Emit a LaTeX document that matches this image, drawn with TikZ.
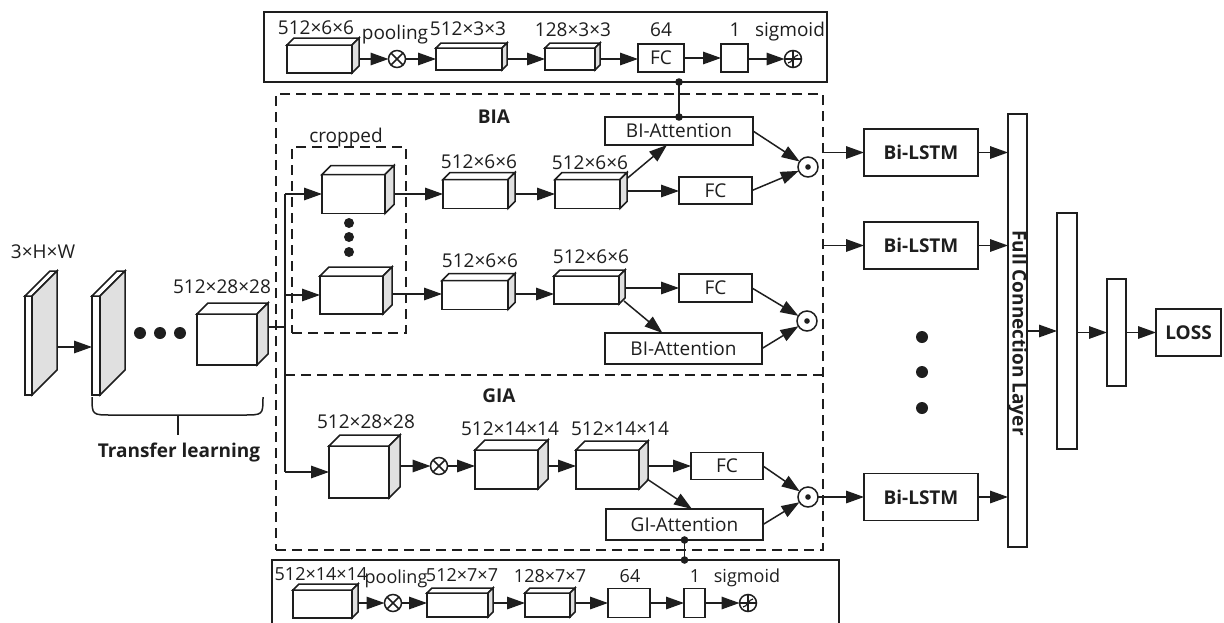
\documentclass[tikz,border=0pt]{standalone}
\usepackage{fontspec}
\setmainfont{Open Sans}
\usetikzlibrary{arrows.meta,calc}
\definecolor{lnc}{HTML}{1E1E1E}
\definecolor{sidegray}{HTML}{E0E0E0}
% name, cx, cy, w, h, depth, out-dy
\newcommand\cub[7]{%
  \node[cubf, minimum width=#4pt, minimum height=#5pt] (#1) at (#2,#3) {};
  \draw[fill=white] (#1.north west) -- ++(#6,-#6) -- ++(#4,0) -- (#1.north east) -- cycle;
  \draw[fill=sidegray] (#1.north east) -- ++(#6,-#6) -- ++(0,#5) -- (#1.south east) -- cycle;
  \coordinate (#1-r) at ($(#1.east)+(#6,#7)$);
}
\newcommand\otm[1]{\draw (#1.north east) -- (#1.south west) (#1.north west) -- (#1.south east);}
\newcommand\odt[1]{\fill (#1) circle (2.8);}
\newcommand\sgm[1]{\draw[line width=1.2pt] (#1.north) -- (#1.south) (#1.west) -- (#1.east);
  \draw[line width=1.2pt] ($(#1)+(-5,4)$) .. controls ($(#1)+(-1,4)$) and ($(#1)+(1,-4)$) .. ($(#1)+(5,-4)$);}
\begin{document}
\begin{tikzpicture}[x=1pt,y=-1pt,line width=1.5pt,color=lnc,
  every node/.style={font=\fontsize{19}{22}\selectfont},
  bf/.style={font=\fontsize{19}{22}\selectfont\bfseries},
  sm/.style={font=\fontsize{18}{21}\selectfont},
  lbl/.style={anchor=base,inner sep=0},
  arr/.style={-{Triangle[length=18pt,width=12.5pt]}},
  cubf/.style={draw,fill=white,inner sep=0,outer sep=0},
  box/.style={draw,fill=white,inner sep=0,outer sep=0},
  dsh/.style={dash pattern=on 10pt off 6pt},
  opc/.style={draw,circle,fill=white,minimum size=17pt,inner sep=0,outer sep=0},
  odc/.style={draw,circle,fill=white,minimum size=20pt,inner sep=0,outer sep=0}]
\useasboundingbox (0,0) rectangle (1224,622);

% ---------- dashed frames ----------
\node[draw,dsh,minimum width=547pt,minimum height=456pt,inner sep=0,outer sep=0] (DB) at (549.5,322) {};
\coordinate (dl) at (285,375); \coordinate (dr) at (823,375);
\draw[dsh] (dl) -- (dr);
\node[draw,dsh,minimum width=114pt,minimum height=186pt,inner sep=0,outer sep=0] (CR) at (349,240) {};

% ---------- top strip ----------
\node[draw,minimum width=563pt,minimum height=70pt,inner sep=0,outer sep=0] (TB) at (545.5,47) {};
\cub{T1}{319.5}{59}{65}{28}{7}{0}
\node[opc] (Tx) at (397,59) {}; \otm{Tx}
\cub{T2}{469}{59}{66}{22}{5}{0}
\cub{T3}{570}{59}{50}{22}{5}{0}
\node[box,minimum width=46pt,minimum height=28pt] (TFC) at (661,58) {FC};
\node[box,minimum width=27pt,minimum height=28pt] (Tone) at (734.5,58) {};
\node[opc] (Tsg) at (793,59) {}; \sgm{Tsg}
\draw[arr] (T1-r) -- (Tx);
\draw[arr] (Tx) -- (T2);
\draw[arr] (T2-r) -- (T3);
\draw[arr] (T3-r) -- (T3-r -| TFC.west);
\draw[arr] (TFC) -- (Tone);
\draw[arr] (Tone.east |- Tsg) -- (Tsg);
\node[lbl] (tl1) at (316,34) {512×6×6};
\node[lbl] (tl2) at (395,39) {pooling};
\node[lbl] (tl3) at (468,35) {512×3×3};
\node[lbl] (tl4) at (573,36) {128×3×3};
\node[lbl] (tl5) at (661,36) {64};
\node[lbl] (tl6) at (735,36) {1};
\node[lbl] (tl7) at (790,36) {sigmoid};

% ---------- left ----------
\cub{S1}{28.5}{345.5}{7}{99}{25}{1.5}
\cub{S2}{96}{345.5}{8}{99}{25}{0}
\draw[arr] (S1-r) -- (S1-r -| S2.west);
\fill (140,333) circle (6) (160,333) circle (6) (180,333) circle (6);
\cub{L3}{227}{339.5}{60}{51}{11}{-12.5}
\node[lbl] (ll1) at (43,258) {3×H×W};
\node[lbl] (ll2) at (222,293) {512×28×28};
\draw (92,397) .. controls (92,415) .. (112,415) -- (243,415) .. controls (263,415) .. (263,397);
\draw (178,415) -- (178,435);
\node[lbl,bf] (ll3) at (179,457) {Transfer learning};

\coordinate (J) at (285,327); \coordinate (Jt) at (285,194);
\coordinate (Jm) at (285,295); \coordinate (Jb) at (285,472);
\draw (L3-r) -- (J);
\draw (Jt) -- (Jb);

% ---------- BIA ----------
\node[lbl,bf] (bia) at (494,123) {BIA};
\node[lbl] (crp) at (346,142) {cropped};
\cub{C1}{353.5}{194}{63}{39}{9}{0}
\cub{C2}{351.5}{295}{63}{38}{9}{-1}
\fill (349,223) circle (5) (349,237) circle (5) (349,252) circle (5);
\draw[arr] (Jt) -- (C1.west);
\draw[arr] (Jm) -- (C2.west);
\cub{R1a}{475.5}{194}{65}{29}{7}{0}
\cub{R1b}{587.5}{194}{65}{29}{7}{-3}
\node[box,minimum width=73pt,minimum height=27pt] (FC1) at (715.5,190.5) {FC};
\node[box,minimum width=148pt,minimum height=28pt] (BA1) at (679,131) {BI-Attention};
\node[odc] (O1) at (808,167) {}; \odt{O1}
\draw[arr] (C1-r) -- (R1a);
\draw[arr] (R1a-r) -- (R1b);
\draw[arr] (R1b-r) -- (R1b-r -| FC1.west);
\draw[arr] ($(R1b.north east)+(7,-1)$) -- ($(BA1.south)+(-12,0)$);
\draw[arr] (BA1.east) -- (O1);
\draw[arr] (FC1.east) -- (O1);
\node[lbl] (bl1) at (479,168) {512×6×6};
\node[lbl] (bl2) at (590,169) {512×6×6};

\cub{R2a}{475}{295}{66}{29}{7}{-1}
\cub{R2b}{586.5}{290}{65}{28}{6}{-2}
\node[box,minimum width=73pt,minimum height=28pt] (FC2) at (715.5,288) {FC};
\node[box,minimum width=157pt,minimum height=31pt] (BA2) at (683.5,348.5) {BI-Attention};
\node[odc] (O2) at (807,321) {}; \odt{O2}
\draw[arr] (C2-r) -- (C2-r -| R2a.west);
\draw[arr] (R2a-r) -- (R2a-r -| R2b.west);
\draw[arr] (R2b-r) -- (R2b-r -| FC2.west);
\draw[arr] ($(R2b.south east)+(5,-3)$) -- ($(BA2.north)+(-21,0)$);
\draw[arr] (FC2.east) -- (O2);
\draw[arr] (BA2.east) -- (O2);
\node[lbl] (bl3) at (480,267) {512×6×6};
\node[lbl] (bl4) at (591,263) {512×6×6};

% junction to top strip
\coordinate (Tj) at (679,82);
\draw (Tj) -- (BA1.north);
\fill (Tj) circle (3.8) (BA1.north) circle (3.8);

% ---------- GIA ----------
\node[lbl,bf] (gia) at (499,402) {GIA};
\cub{G1}{359}{472}{60}{52}{11}{-6}
\node[opc] (Gx) at (439,466) {}; \otm{Gx}
\cub{G2}{506.5}{469.5}{63}{39}{10}{-3.5}
\cub{G3}{607.5}{469.5}{63}{39}{9}{-3.5}
\node[box,minimum width=72pt,minimum height=27pt] (FC3) at (727,466) {FC};
\node[box,minimum width=157pt,minimum height=31pt] (GA) at (684.5,524.5) {GI-Attention};
\node[odc] (O3) at (808,497) {}; \odt{O3}
\draw[arr] (Jb) -- (G1.west);
\draw[arr] (G1-r) -- (Gx);
\draw[arr] (Gx) -- (Gx -| G2.west);
\draw[arr] (G2-r) -- (G2-r -| G3.west);
\draw[arr] (G3-r) -- (G3-r -| FC3.west);
\draw[arr] ($(G3.south east)+(8,-10)$) -- ($(GA.north)+(7.5,0)$);
\draw[arr] (FC3.east) -- (O3);
\draw[arr] (GA.east) -- (O3);
\node[lbl] (gl1) at (366,428) {512×28×28};
\node[lbl] (gl2) at (510,435) {512×14×14};
\node[lbl] (gl3) at (620,435) {512×14×14};

% ---------- bottom strip ----------
\coordinate (bf1) at (272,640); \coordinate (bf2) at (272,560);
\coordinate (bf3) at (839,560); \coordinate (bf4) at (839,640);
\draw (bf1) -- (bf2) -- (bf3) -- (bf4);
\coordinate (Bj) at (684.5,560);
\draw (GA.south) -- (Bj);
\fill (GA.south) circle (3.8) (Bj) circle (3.8);
\cub{B1}{322.5}{604}{59}{28}{6}{-1}
\node[opc] (Bx) at (393,603) {}; \otm{Bx}
\cub{B2}{457.5}{605}{61}{24}{5}{-2}
\cub{B3}{547.5}{605}{45}{24}{5}{-2}
\node[box,minimum width=42pt,minimum height=29pt] (B64) at (629,603) {};
\node[box,minimum width=21pt,minimum height=29pt] (Bone) at (694.5,603) {};
\node[opc] (Bsg) at (748,603) {}; \sgm{Bsg}
\draw[arr] (B1-r) -- (Bx);
\draw[arr] (Bx) -- (Bx -| B2.west);
\draw[arr] (B2-r) -- (B2-r -| B3.west);
\draw[arr] (B3-r) -- (B3-r -| B64.west);
\draw[arr] (B64) -- (Bone);
\draw[arr] (Bone) -- (Bsg);
\node[lbl,sm] (xl1) at (321,580) {512×14×14};
\node[lbl,sm] (xl2) at (396,583) {pooling};
\node[lbl,sm] (xl3) at (462,581) {512×7×7};
\node[lbl,sm] (xl4) at (550,582) {128×7×7};
\node[lbl,sm] (xl5) at (630,582) {64};
\node[lbl,sm] (xl6) at (695,582) {1};
\node[lbl,sm] (xl7) at (747,582) {sigmoid};

% ---------- right ----------
\node[box,bf,minimum width=114pt,minimum height=47pt] (BL1) at (921,152.5) {Bi-LSTM};
\node[box,bf,minimum width=114pt,minimum height=47pt] (BL2) at (921,245.5) {Bi-LSTM};
\node[box,bf,minimum width=114pt,minimum height=47pt] (BL3) at (921,497) {Bi-LSTM};
\coordinate (e1) at (823,152.5); \coordinate (e2) at (823,245.5);
\draw[arr] (e1) -- (BL1.west);
\draw[arr] (e2) -- (BL2.west);
\draw[arr] (O3) -- (BL3.west);
\fill (922,337) circle (6) (922,372) circle (6) (922,408) circle (6);
\node[box,minimum width=19pt,minimum height=433pt] (FCL) at (1017.5,330.5) {};
\node[bf,rotate=-90,inner sep=0] (FCLt) at (1017.5,333) {Full Connection Layer};
\draw[arr] (BL1.east) -- (BL1.east -| FCL.west);
\draw[arr] (BL2.east) -- (BL2.east -| FCL.west);
\draw[arr] (BL3.east) -- (BL3.east -| FCL.west);
\node[box,minimum width=20pt,minimum height=236pt] (P2) at (1067,331) {};
\node[box,minimum width=19pt,minimum height=107pt] (P3) at (1116.5,332.5) {};
\node[box,bf,minimum width=65pt,minimum height=47pt] (LOSS) at (1188.5,332.5) {LOSS};
\draw[arr] (FCL.east |- P2) -- (P2.west);
\draw[arr] (P2.east |- P3) -- (P3.west);
\draw[arr] (P3.east) -- (LOSS.west);
\end{tikzpicture}
\end{document}
